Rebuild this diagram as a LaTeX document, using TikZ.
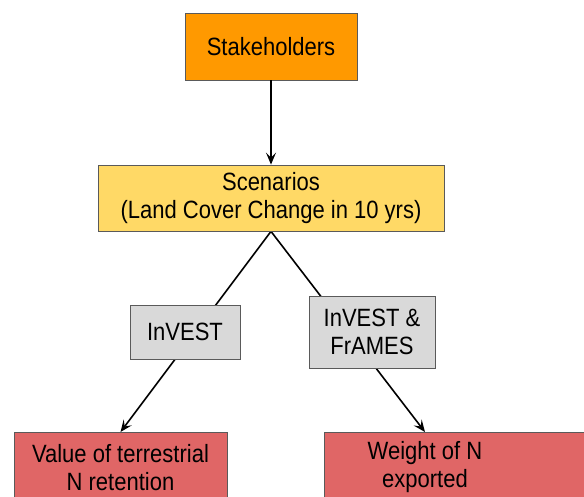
\documentclass[tikz,border=0pt]{standalone}
\usepackage{fontspec}
\setmainfont[FakeStretch=0.88]{Liberation Sans}
\usetikzlibrary{arrows.meta,backgrounds}

\definecolor{stakeorange}{RGB}{255,153,0}
\definecolor{scenyellow}{RGB}{255,217,102}
\definecolor{toolgray}{RGB}{217,217,217}
\definecolor{outred}{RGB}{224,102,102}
\definecolor{edgegray}{RGB}{90,90,90}

\tikzset{
  box/.style={draw=edgegray,line width=0.8pt,align=center,inner sep=0pt,
    font=\fontsize{25}{28}\selectfont},
  link/.style={line width=1.6pt,-{Stealth[length=12pt,width=10pt,inset=5pt]}},
}

\begin{document}
\begin{tikzpicture}[x=1pt,y=-1pt]
      \useasboundingbox (0,0) rectangle (584,496);

      \node[box,fill=stakeorange,minimum width=172pt,minimum height=67pt] (stake) at (271,46.5) {Stakeholders};
      \node[box,fill=scenyellow,minimum width=346pt,minimum height=66pt] (scen) at (271,198)
        {Scenarios\\(Land Cover Change in 10 yrs)};

      \node[box,fill=toolgray,minimum width=110pt,minimum height=54pt] (inv) at (185,332) {InVEST};
      \node[box,fill=toolgray,minimum width=126pt,minimum height=72pt] (invf) at (372,332) {InVEST \&\\FrAMES};

      \node[box,fill=outred,anchor=north,minimum width=213pt,minimum height=70pt] (val) at (120.5,432)
        {Value of terrestrial\\N retention};
      \node[box,fill=outred,anchor=north west,minimum width=290pt,minimum height=70pt] (wgtbox) at (324,432) {};
      \node[box,draw=none] (wgt) at (425,467) {Weight of N\\exported};

      \draw[link] (stake) -- (scen);
      \begin{scope}[on background layer]
        \draw[link] (scen.south) -- (val.north);
        \draw[link] (scen.south) -- (wgt |- wgtbox.north);
      \end{scope}
    \end{tikzpicture}
\end{document}
